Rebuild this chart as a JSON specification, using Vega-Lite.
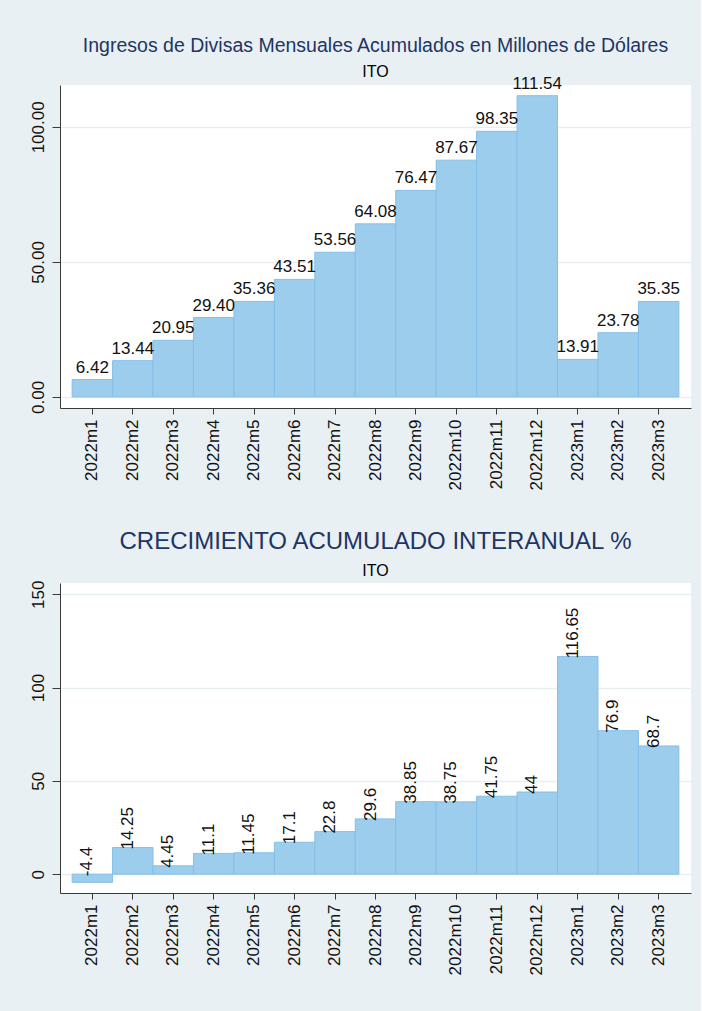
{
  "$schema": "https://vega.github.io/schema/vega-lite/v6.json",
  "background": "#e8f0f3",
  "padding": {"left": 28, "top": 36, "right": 10, "bottom": 37},
  "spacing": 40,
  "config": {
    "font": "Liberation Sans",
    "view": {"fill": "white", "stroke": null},
    "axis": {
      "domainColor": "#3a3a3a",
      "tickColor": "#3a3a3a",
      "labelColor": "#111111",
      "labelFontSize": 17,
      "gridColor": "#e6eef2",
      "gridWidth": 1.5,
      "titleFontSize": 0
    }
  },
  "datasets": {
    "ingresos": [
      {"mes": "2022m1", "v": 6.42},
      {"mes": "2022m2", "v": 13.44},
      {"mes": "2022m3", "v": 20.95},
      {"mes": "2022m4", "v": 29.40},
      {"mes": "2022m5", "v": 35.36},
      {"mes": "2022m6", "v": 43.51},
      {"mes": "2022m7", "v": 53.56},
      {"mes": "2022m8", "v": 64.08},
      {"mes": "2022m9", "v": 76.47},
      {"mes": "2022m10", "v": 87.67},
      {"mes": "2022m11", "v": 98.35},
      {"mes": "2022m12", "v": 111.54},
      {"mes": "2023m1", "v": 13.91},
      {"mes": "2023m2", "v": 23.78},
      {"mes": "2023m3", "v": 35.35}
    ],
    "crecimiento": [
      {"mes": "2022m1", "v": -4.4},
      {"mes": "2022m2", "v": 14.25},
      {"mes": "2022m3", "v": 4.45},
      {"mes": "2022m4", "v": 11.1},
      {"mes": "2022m5", "v": 11.45},
      {"mes": "2022m6", "v": 17.1},
      {"mes": "2022m7", "v": 22.8},
      {"mes": "2022m8", "v": 29.6},
      {"mes": "2022m9", "v": 38.85},
      {"mes": "2022m10", "v": 38.75},
      {"mes": "2022m11", "v": 41.75},
      {"mes": "2022m12", "v": 44},
      {"mes": "2023m1", "v": 116.65},
      {"mes": "2023m2", "v": 76.9},
      {"mes": "2023m3", "v": 68.7}
    ]
  },
  "vconcat": [
    {
      "width": 631,
      "height": 323,
      "title": {
        "text": "Ingresos de Divisas Mensuales Acumulados en Millones de Dólares",
        "subtitle": "ITO",
        "frame": "group",
        "anchor": "middle",
        "fontSize": 19.5,
        "fontWeight": "normal",
        "color": "#1f3564",
        "subtitleFontSize": 16,
        "subtitleColor": "#000000",
        "subtitlePadding": 7,
        "offset": -6
      },
      "data": {"name": "ingresos"},
      "encoding": {
        "x": {
          "field": "mes", "type": "nominal", "sort": null,
          "scale": {"paddingInner": 0, "paddingOuter": 0.3},
          "axis": {"labelAngle": -90, "labelAlign": "right", "labelBaseline": "middle", "tickSize": 6, "labelPadding": 5, "title": null}
        }
      },
      "layer": [
        {
          "mark": {"type": "bar", "fill": "#9ccdec", "stroke": "#86bfe7", "strokeWidth": 1},
          "encoding": {
            "y": {
              "field": "v", "type": "quantitative",
              "scale": {"domain": [-4.1, 115.5], "nice": false, "zero": false},
              "axis": {"values": [0, 50, 100], "format": ".2f", "labelAngle": -90, "labelAlign": "center", "labelBaseline": "bottom", "tickSize": 8, "labelPadding": 5, "title": null, "grid": true}
            }
          }
        },
        {
          "mark": {"type": "text", "fontSize": 17, "baseline": "alphabetic", "align": "center", "dy": -7, "color": "#111111"},
          "encoding": {
            "y": {"field": "v", "type": "quantitative"},
            "text": {"field": "v", "type": "quantitative", "format": ".2f"}
          }
        }
      ]
    },
    {
      "width": 631,
      "height": 310,
      "title": {
        "text": "CRECIMIENTO ACUMULADO INTERANUAL %",
        "subtitle": "ITO",
        "frame": "group",
        "anchor": "middle",
        "fontSize": 24,
        "fontWeight": "normal",
        "color": "#1f3564",
        "subtitleFontSize": 16,
        "subtitleColor": "#000000",
        "subtitlePadding": 9,
        "offset": 1
      },
      "data": {"name": "crecimiento"},
      "transform": [{"calculate": "max(datum.v, 0)", "as": "ly"}],
      "encoding": {
        "x": {
          "field": "mes", "type": "nominal", "sort": null,
          "scale": {"paddingInner": 0, "paddingOuter": 0.3},
          "axis": {"labelAngle": -90, "labelAlign": "right", "labelBaseline": "middle", "tickSize": 6, "labelPadding": 5, "title": null}
        }
      },
      "layer": [
        {
          "mark": {"type": "bar", "fill": "#9ccdec", "stroke": "#86bfe7", "strokeWidth": 1},
          "encoding": {
            "y": {
              "field": "v", "type": "quantitative",
              "scale": {"domain": [-10.1, 156], "nice": false, "zero": false},
              "axis": {"values": [0, 50, 100, 150], "labelAngle": -90, "labelAlign": "center", "labelBaseline": "bottom", "tickSize": 8, "labelPadding": 5, "title": null, "grid": true}
            }
          }
        },
        {
          "mark": {"type": "text", "fontSize": 17, "baseline": "alphabetic", "align": "left", "angle": 270, "dx": -2, "color": "#111111"},
          "encoding": {
            "y": {"field": "ly", "type": "quantitative"},
            "text": {"field": "v", "type": "nominal"}
          }
        }
      ]
    }
  ]
}
